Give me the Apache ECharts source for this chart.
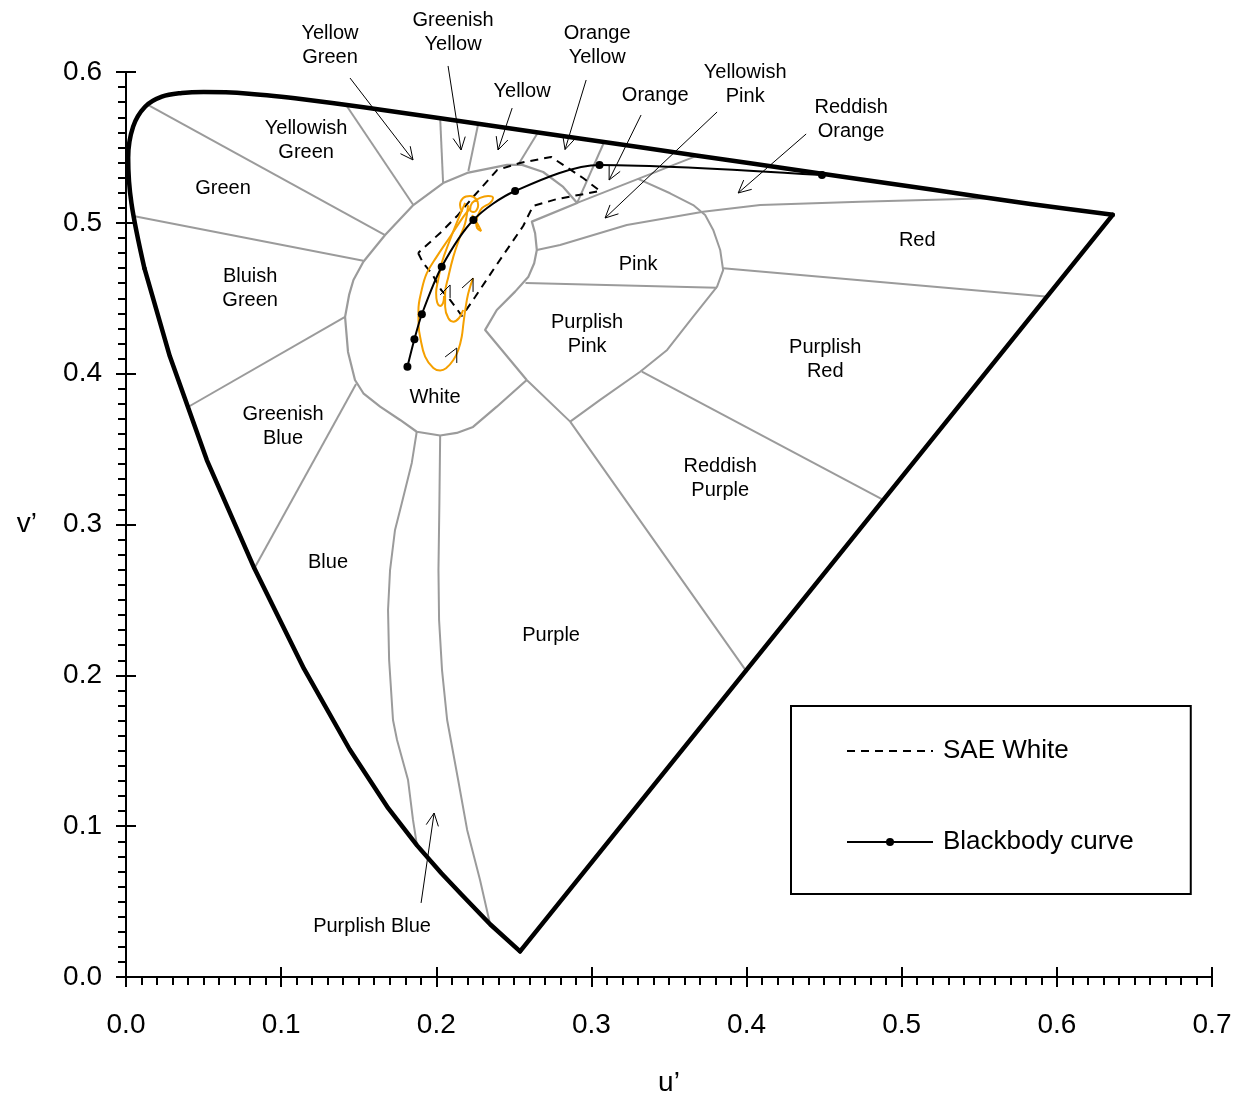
<!DOCTYPE html>
<html><head><meta charset="utf-8">
<script src="https://cdn.jsdelivr.net/npm/echarts@6/dist/echarts.min.js"></script>
<style>html,body{margin:0;padding:0;background:#fff;overflow:hidden}#c{width:1244px;height:1095px}</style>
</head><body><div id="c"></div>
<script>
// ---------------- DATA (u', v') ----------------
const spectralBlueSide = [
  [0.2540,0.0170],[0.2347,0.0350],[0.2161,0.0549],[0.2033,0.0688],
  [0.1877,0.0871],[0.1690,0.1119],[0.1441,0.1510],[0.1147,0.2044],[0.0828,0.2708],[0.0521,0.3427],
  [0.0282,0.4117],[0.0119,0.4698]
];
const spectralTop = [
  [0.0119,0.4698],[0.0035,0.5131],[0.0014,0.5432],[0.0046,0.5638],[0.0123,0.5770],
  [0.0231,0.5837],[0.0360,0.5861],[0.0501,0.5868],[0.0643,0.5865],[0.0792,0.5856],[0.0953,0.5841],
  [0.1127,0.5821],[0.1531,0.5766],[0.2026,0.5694],[0.2623,0.5604],[0.3315,0.5501],[0.4035,0.5393],
  [0.5203,0.5219],[0.5830,0.5125],[0.6360,0.5053]
];
const purpleLine = [[0.6360,0.5053],[0.2540,0.0170]];
const whiteRegion = [
  [0.2583,0.3958],[0.2390,0.3781],[0.2237,0.3647],[0.2132,0.3607],[0.2025,0.3590],[0.1874,0.3615],
  [0.1767,0.3693],[0.1638,0.3781],[0.1530,0.3870],[0.1476,0.3958],[0.1431,0.4144],[0.1412,0.4376],
  [0.1438,0.4522],[0.1466,0.4621],[0.1530,0.4742],[0.1670,0.4919],[0.1852,0.5118],[0.2044,0.5264],
  [0.2199,0.5331],[0.2456,0.5384],[0.2553,0.5384],[0.2689,0.5337],[0.2818,0.5238],[0.2908,0.5132],
  [0.2616,0.5008],[0.2637,0.4931],[0.2648,0.4820],[0.2631,0.4732],[0.2594,0.4643],[0.2508,0.4544],
  [0.2390,0.4422],[0.2315,0.4290],[0.2583,0.3958]
];
const regionBoundaries = [
  [[0.1670,0.4919],[0.0144,0.5781]],
  [[0.1530,0.4749],[0.0047,0.5045]],
  [[0.1412,0.4376],[0.0400,0.3779]],
  [[0.1483,0.3932],[0.0825,0.2705]],
  [[0.1874,0.3615],[0.1842,0.3408],[0.1778,0.3143],[0.1734,0.2964],[0.1702,0.2698],[0.1689,0.2433],
   [0.1696,0.2102],[0.1721,0.1704],[0.1747,0.1571],[0.1818,0.1306],[0.1850,0.1041],[0.1876,0.0869]],
  [[0.2025,0.3590],[0.2020,0.3143],[0.2014,0.2698],[0.2018,0.2367],[0.2037,0.2035],[0.2070,0.1704],
   [0.2141,0.1306],[0.2199,0.0975],[0.2282,0.0643],[0.2347,0.0350]],
  [[0.2583,0.3958],[0.2863,0.3682],[0.4004,0.2020]],
  [[0.3325,0.4013],[0.4887,0.3160]],
  [[0.3849,0.4699],[0.5946,0.4510]],
  [[0.2575,0.4601],[0.3809,0.4570]],
  [[0.3301,0.5291],[0.3507,0.5196],[0.3656,0.5118],[0.3733,0.5052],[0.3785,0.4953],[0.3830,0.4820],
   [0.3849,0.4687],[0.3810,0.4577],[0.3656,0.4378],[0.3488,0.4157],[0.3314,0.4013],[0.3056,0.3826],[0.2863,0.3682]],
  [[0.2648,0.4820],[0.2798,0.4853],[0.3228,0.4986],[0.3720,0.5074],[0.4088,0.5118],[0.4732,0.5140],[0.5571,0.5163]],
  [[0.2908,0.5132],[0.3682,0.5446]],
  [[0.2908,0.5132],[0.3082,0.5536]],
  [[0.2529,0.5387],[0.2658,0.5604]],
  [[0.2207,0.5344],[0.2271,0.5660]],
  [[0.2044,0.5264],[0.2025,0.5693]],
  [[0.1852,0.5118],[0.1423,0.5775]]
];
const saeWhite = [
  [0.1883,0.4800],[0.1915,0.4734],[0.1973,0.4661],[0.2031,0.4555],[0.2089,0.4489],[0.2166,0.4382],
  [0.2250,0.4508],[0.2379,0.4707],[0.2476,0.4853],[0.2560,0.4979],[0.2624,0.5112],[0.2779,0.5158],
  [0.3056,0.5211],[0.2946,0.5297],[0.2740,0.5437],[0.2540,0.5397],[0.2392,0.5350],[0.2237,0.5171],
  [0.2134,0.5045],[0.2025,0.4933],[0.1883,0.4800]
];
const blackbody = [
  [0.1814,0.4046],[0.1859,0.4228],[0.1907,0.4394],[0.2035,0.4709],[0.2239,0.5019],
  [0.2508,0.5211],[0.3052,0.5384],[0.4486,0.5317]
];
const traceOuter = [
  [0.2218,0.5098],[0.2175,0.5041],[0.2089,0.4908],[0.2003,0.4776],[0.1939,0.4666],[0.1906,0.4555],
  [0.1885,0.4422],[0.1886,0.4323],[0.1896,0.4243],[0.1928,0.4113],[0.1981,0.4038],[0.2025,0.4021],
  [0.2063,0.4036],[0.2110,0.4091],[0.2142,0.4157],[0.2164,0.4245],[0.2175,0.4334],[0.2186,0.4416],
  [0.2205,0.4528],[0.2237,0.4634]
];
const traceMiddle = [
  [0.2205,0.5118],[0.2186,0.4997],[0.2153,0.4908],[0.2110,0.4776],[0.2078,0.4643],[0.2057,0.4533],
  [0.2057,0.4444],[0.2078,0.4367],[0.2110,0.4345],[0.2147,0.4369],[0.2173,0.4422]
];
const traceInner = [
  [0.2186,0.5132],[0.2134,0.5006],[0.2083,0.4873],[0.2037,0.4740],[0.2012,0.4621],[0.1999,0.4535],
  [0.2005,0.4475],[0.2025,0.4449],[0.2044,0.4469],[0.2050,0.4515]
];
const traceKnot = [
  [0.2166,0.5072],[0.2153,0.5118],[0.2173,0.5165],[0.2218,0.5178],[0.2257,0.5158],[0.2270,0.5118],
  [0.2244,0.5072],[0.2218,0.5085],[0.2231,0.5132],[0.2282,0.5165],[0.2334,0.5178],[0.2366,0.5165],
  [0.2347,0.5132],[0.2295,0.5098],[0.2270,0.5052],[0.2257,0.5006],[0.2263,0.4966],[0.2289,0.4946],
  [0.2270,0.4986],[0.2231,0.5052]
];
const traceArrowheads = [
  [[0.2025,0.4522],[0.2089,0.4588],[0.2089,0.4502]],
  [[0.2166,0.4568],[0.2237,0.4634],[0.2237,0.4542]],
  [[0.2057,0.4111],[0.2132,0.4170],[0.2132,0.4071]]
];
const labelArrows = [
  [[0.1444,0.5960],[0.1850,0.5417]],
  [[0.2076,0.6040],[0.2160,0.5483]],
  [[0.2489,0.5761],[0.2398,0.5483]],
  [[0.2966,0.5947],[0.2830,0.5486]],
  [[0.3320,0.5715],[0.3114,0.5284]],
  [[0.3810,0.5735],[0.3088,0.5032]],
  [[0.4384,0.5589],[0.3946,0.5198]],
  [[0.1902,0.0491],[0.1986,0.1087]]
];
const regionLabels = [
  [0.1315,0.6173,'Yellow\nGreen'],
  [0.2108,0.6265,'Greenish\nYellow'],
  [0.3037,0.6173,'Orange\nYellow'],
  [0.2553,0.5874,'Yellow'],
  [0.3411,0.5841,'Orange'],
  [0.3991,0.5914,'Yellowish\nPink'],
  [0.4674,0.5682,'Reddish\nOrange'],
  [0.1161,0.5549,'Yellowish\nGreen'],
  [0.0625,0.5231,'Green'],
  [0.0800,0.4568,'Bluish\nGreen'],
  [0.5100,0.4886,'Red'],
  [0.3301,0.4721,'Pink'],
  [0.2972,0.4263,'Purplish\nPink'],
  [0.4507,0.4091,'Purplish\nRed'],
  [0.1992,0.3839,'White'],
  [0.1012,0.3653,'Greenish\nBlue'],
  [0.3830,0.3302,'Reddish\nPurple'],
  [0.1302,0.2751,'Blue'],
  [0.2740,0.2267,'Purple'],
  [0.1586,0.0338,'Purplish Blue']
];
const xRange = [0, 0.7], yRange = [0, 0.6], tickStep = 0.1;

// ---------------- CHART ----------------
const FONT = '"Liberation Sans", Arial, Helvetica, sans-serif';
const chart = echarts.init(document.getElementById('c'), null, {renderer: 'canvas', width: 1244, height: 1095});
const GRAY = '#9b9b9b';

function baseAxis(extra) {
  return Object.assign({
    type: 'value', min: 0, interval: tickStep, gridIndex: 0,
    splitLine: {show: false},
    axisLine: {show: true, onZero: false, lineStyle: {color: '#000', width: 2}},
    axisTick: {show: true, length: 10, lineStyle: {color: '#000', width: 2}},
    minorTick: {show: true, splitNumber: 10, length: 8, lineStyle: {color: '#000', width: 2}}
  }, extra);
}
function innerAxis(extra) {
  return Object.assign({
    type: 'value', min: 0, interval: tickStep, gridIndex: 0,
    splitLine: {show: false}, axisLine: {show: false},
    axisTick: {show: true, inside: true, length: 10, lineStyle: {color: '#000', width: 2}},
    axisLabel: {show: false}
  }, extra);
}
function line(data, style, z, extra) {
  return Object.assign({type: 'line', data: data, symbol: 'none', clip: false, silent: true,
    animation: false, lineStyle: style, z: z}, extra || {});
}

function buildOption(heads) {
  const series = [];
  regionBoundaries.forEach(b => series.push(line(b, {color: GRAY, width: 2}, 2)));
  series.push(line(whiteRegion, {color: GRAY, width: 2.2, join: 'round'}, 2));
  series.push(line(spectralBlueSide, {color: '#000', width: 4.5, join: 'round', cap: 'round'}, 4));
  series.push(line(spectralTop, {color: '#000', width: 4.5, join: 'round', cap: 'round'}, 4, {smooth: 0.35}));
  series.push(line(purpleLine, {color: '#000', width: 4.5, cap: 'round'}, 4));
  series.push(line(saeWhite, {color: '#000', width: 2, type: [8, 6]}, 5, {name: 'SAE White'}));
  [traceOuter, traceMiddle, traceInner, traceKnot].forEach(t =>
    series.push(line(t, {color: '#f5a000', width: 2}, 6, {smooth: 0.4})));
  series.push({type: 'line', name: 'Blackbody curve', data: blackbody, smooth: 0.3, clip: false,
    silent: true, symbol: 'circle', symbolSize: 8, showAllSymbol: true, z: 7,
    lineStyle: {color: '#000', width: 2}, itemStyle: {color: '#000'}});
  traceArrowheads.forEach(a => series.push(line(a, {color: '#000', width: 1}, 8)));
  labelArrows.forEach((a, i) => {
    series.push(line(a, {color: '#000', width: 1}, 8));
    if (heads) series.push(line(heads[i], {color: '#000', width: 1}, 8));
  });
  series.push({type: 'scatter', data: regionLabels.map(d => ({value: [d[0], d[1]], name: d[2]})),
    symbolSize: 0, clip: false, silent: true, z: 9, itemStyle: {opacity: 1},
    label: {show: true, position: 'inside', formatter: p => p.name, color: '#000', fontSize: 20,
      lineHeight: 24, fontFamily: FONT, align: 'center', verticalAlign: 'middle', opacity: 1}});
  return {
    animation: false,
    backgroundColor: '#fff',
    grid: {left: 126, top: 72, width: 1086, height: 905, containLabel: false, outerBoundsMode: 'none'},
    xAxis: [
      baseAxis({max: xRange[1], position: 'bottom', name: 'u\u2019', nameLocation: 'middle', nameGap: 92,
        nameTextStyle: {color: '#000', fontSize: 28, fontFamily: FONT},
        axisLabel: {color: '#000', fontSize: 28, fontFamily: FONT, margin: 34, formatter: v => v.toFixed(1)}}),
      innerAxis({max: xRange[1], position: 'bottom'})
    ],
    yAxis: [
      baseAxis({max: yRange[1], position: 'left', name: 'v\u2019', nameLocation: 'middle', nameGap: 89, nameRotate: 0,
        nameTextStyle: {color: '#000', fontSize: 28, fontFamily: FONT},
        axisLabel: {color: '#000', fontSize: 28, fontFamily: FONT, margin: 24, formatter: v => v.toFixed(1)}}),
      innerAxis({max: yRange[1], position: 'left'})
    ],
    legend: {
      show: true, orient: 'vertical', left: 791, top: 706, selectedMode: false,
      data: [{name: 'SAE White', itemStyle: {opacity: 0}}, {name: 'Blackbody curve'}],
      itemWidth: 86, itemHeight: 10, itemGap: 61,
      padding: [30, 57, 37, 55],
      borderColor: '#000', borderWidth: 2,
      textStyle: {color: '#000', fontSize: 26, fontFamily: FONT, lineHeight: 30, padding: [0, 0, 0, 5]}
    },
    series: series
  };
}

chart.setOption(buildOption(null));
const fin = {xAxisIndex: 0, yAxisIndex: 0};
const heads = labelArrows.map(a => {
  const p1 = chart.convertToPixel(fin, a[0]);
  const p2 = chart.convertToPixel(fin, a[1]);
  const dx = p2[0] - p1[0], dy = p2[1] - p1[1], L = Math.hypot(dx, dy);
  const ux = dx / L, uy = dy / L, len = 14, ang = 26 * Math.PI / 180;
  const pts = [1, -1].map(s => {
    const c = Math.cos(s * ang), sn = Math.sin(s * ang);
    const bx = -(ux * c - uy * sn), by = -(ux * sn + uy * c);
    return chart.convertFromPixel(fin, [p2[0] + len * bx, p2[1] + len * by]);
  });
  return [pts[0], a[1], pts[1]];
});
chart.setOption(buildOption(heads), true);
</script></body></html>
